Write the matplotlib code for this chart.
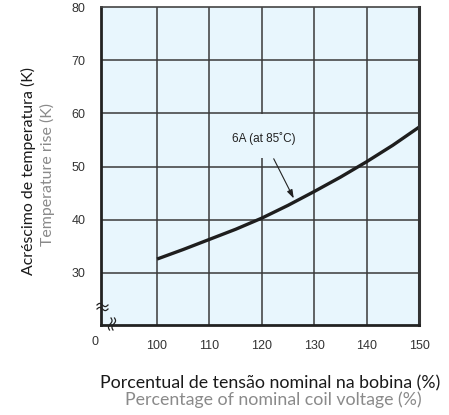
import matplotlib
matplotlib.use("Agg")
import matplotlib.pyplot as plt
import numpy as np
from matplotlib.patches import Rectangle
from matplotlib.lines import Line2D

# Data
voltage_pct = [100, 105, 110, 115, 120, 125, 130, 135, 140, 145, 150]
temp_rise = [32.6, 34.4, 36.3, 38.2, 40.3, 42.7, 45.3, 48.0, 50.9, 54.0, 57.4]
x_ticks = [100, 110, 120, 130, 140, 150]
y_ticks = [30, 40, 50, 60, 70, 80]
series_label = "6A (at 85˚C)"
xlabel_pt = "Porcentual de tensão nominal na bobina (%)"
xlabel_en = "Percentage of nominal coil voltage (%)"
ylabel_pt = "Acréscimo de temperatura (K)"
ylabel_en = "Temperature rise (K)"

W, H = 449, 415
fig = plt.figure(figsize=(W / 100, H / 100), dpi=100)
ax = fig.add_axes([101 / W, 1 - 325 / H, (419 - 101) / W, (325 - 7) / H])

bg = "#e8f6fd"
ax.set_facecolor(bg)
xmin, xmax = 89.3, 150
ymin, ymax = 20.2, 80
ax.set_xlim(xmin, xmax)
ax.set_ylim(ymin, ymax)

gridc = "#3a3a3a"
for xv in x_ticks[:-1]:
    ax.axvline(xv, color=gridc, lw=1.1, zorder=1)
for yv in y_ticks[:-1]:
    ax.axhline(yv, color=gridc, lw=1.1, zorder=1)

# gap behind label (as in reference)
ax.add_patch(Rectangle((118.5, 51.6), 3, 8.2, facecolor=bg, edgecolor="none", zorder=1.5))

ax.plot(voltage_pct, temp_rise, color="#1e1e1e", lw=2.4, zorder=3, solid_capstyle="butt")

ax.annotate(series_label, xy=(126.1, 44.0), xytext=(120.3, 55.3),
            ha="center", va="center", fontsize=8.5, family="Liberation Sans", color="#222",
            arrowprops=dict(arrowstyle="-|>,head_length=0.6,head_width=0.2", color="#222", lw=0.8,
                            shrinkA=9, shrinkB=0), zorder=4)

ax.set_xticks(x_ticks)
ax.set_yticks(y_ticks)
ax.tick_params(length=0, labelsize=9, colors="#333", pad=11)
for lab in ax.get_xticklabels() + ax.get_yticklabels():
    lab.set_family("Liberation Sans")
fig.text(95 / W, 1 - 342 / H, "0", ha="center", va="center", fontsize=9,
         family="Liberation Sans", color="#333")

for s in ["left", "bottom"]:
    ax.spines[s].set_linewidth(2.0)
    ax.spines[s].set_color("#222")
ax.spines["top"].set_linewidth(1.2)
ax.spines["top"].set_color("#444")
ax.spines["right"].set_linewidth(2.2)
ax.spines["right"].set_color("#333")
for s in ax.spines.values():
    s.set_zorder(5)

# axis break marks (figure pixel coords)
t = np.linspace(0, 1, 20)
for off in (0, 4):
    xs = 97 + 11 * t
    ys = 305 + off - 1.6 * np.sin(2 * np.pi * t)
    fig.add_artist(Line2D(xs / W, 1 - ys / H, color="#222", lw=0.9, zorder=10))
for off in (0, 3.5):
    ys = 318 + 12 * t
    xs = 111 + off + 1.4 * np.sin(2 * np.pi * t) - 1.5 * t
    fig.add_artist(Line2D(xs / W, 1 - ys / H, color="#222", lw=0.9, zorder=10))

lf = "Lato"
fig.text(270 / W, 1 - 383 / H, xlabel_pt, ha="center", va="center", fontsize=12.8,
         family=lf, color="#1a1a1a")
fig.text(273 / W, 1 - 400 / H, xlabel_en, ha="center", va="center", fontsize=12.8,
         family=lf, color="#8a8a8a")
fig.text(28 / W, 1 - 171 / H, ylabel_pt, ha="center", va="center", fontsize=11.4,
         family=lf, color="#1a1a1a", rotation=90)
fig.text(47 / W, 1 - 174 / H, ylabel_en, ha="center", va="center", fontsize=11.4,
         family=lf, color="#8a8a8a", rotation=90)

fig.savefig("out.png", dpi=100)
